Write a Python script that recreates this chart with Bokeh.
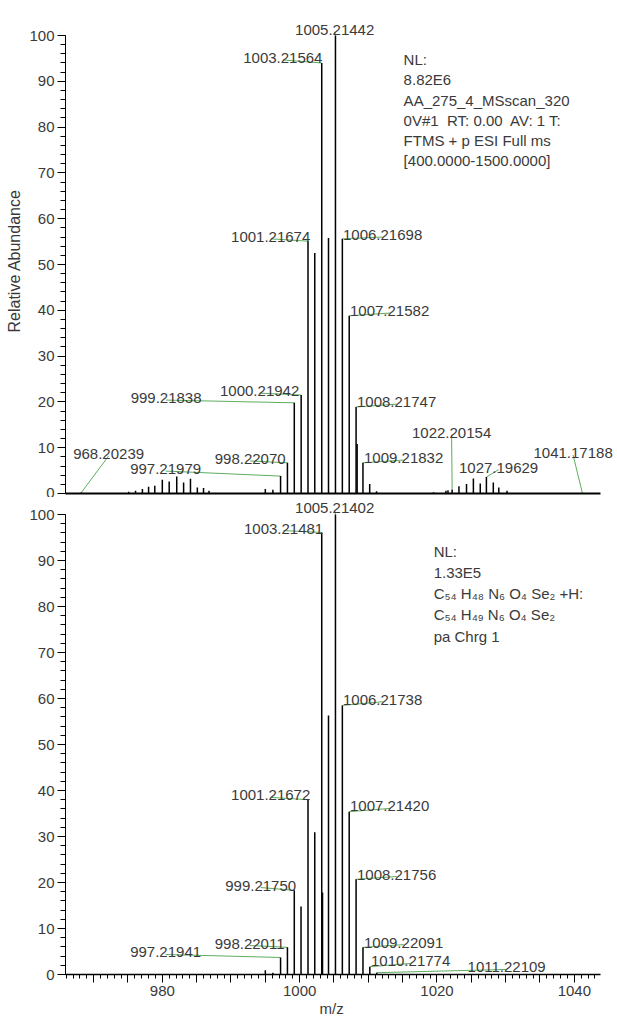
from bokeh.plotting import figure
from bokeh.models import ColumnDataSource, Range1d, FixedTicker
from bokeh.layouts import column
from bokeh.embed import file_html
from bokeh.resources import INLINE
from bokeh.core.properties import value

# ---------------- data ----------------
# upper spectrum: measured scan (m/z, relative abundance)
top_mz = [968.20239, 975.1, 976.1, 977.1, 978.0, 978.9, 980.0, 981.0, 982.1, 983.1,
          984.1, 985.1, 986.0, 986.8, 995.0, 996.1, 997.21979, 998.22070, 999.21838,
          1000.21942, 1001.21674, 1002.2, 1003.21564, 1004.2, 1005.21442, 1006.21698,
          1007.21582, 1008.21747, 1008.37, 1009.21832, 1010.2, 1011.2, 1019.5, 1021.3,
          1021.6, 1022.20154, 1023.2, 1024.3, 1025.3, 1026.3, 1027.19629, 1028.2,
          1029.0, 1030.2, 1041.17188]
top_ab = [0.2, 0.4, 0.6, 1.0, 1.5, 1.7, 3.0, 2.6, 3.7, 2.4,
          3.2, 1.3, 1.2, 0.6, 1.0, 0.8, 3.8, 6.7, 19.8,
          21.5, 55.1, 52.5, 94.0, 55.8, 100.0, 55.6,
          38.8, 18.9, 10.8, 6.7, 2.1, 0.5, 0.3, 0.6,
          0.7, 0.9, 1.6, 2.1, 3.3, 2.2, 3.6, 2.4,
          1.3, 0.6, 0.1]
top_labeled = [968.20239, 997.21979, 998.22070, 999.21838, 1000.21942, 1001.21674,
               1003.21564, 1005.21442, 1006.21698, 1007.21582, 1008.21747, 1009.21832,
               1022.20154, 1027.19629, 1041.17188]
NB = "\u00a0"
top_info = ["NL:", "8.82E6", "AA_275_4_MSscan_320",
            "0V#1" + NB + " RT: 0.00" + NB + " AV: 1 T:",
            "FTMS + p ESI Full ms", "[400.0000-1500.0000]"]

# lower spectrum: theoretical isotope pattern
bot_mz = [995.0, 996.1, 997.21941, 998.22011, 999.21750, 1000.2, 1001.21672, 1002.2,
          1003.21481, 1003.33, 1004.2, 1005.21402, 1006.21738, 1007.21420, 1008.21756,
          1009.22091, 1010.21774, 1011.22109]
bot_ab = [0.9, 0.4, 3.7, 5.9, 18.3, 14.8, 38.0, 30.9,
          96.1, 17.8, 56.3, 100.0, 58.5, 35.4, 20.7,
          5.9, 1.7, 0.4]
bot_labeled = [997.21941, 998.22011, 999.21750, 1001.21672, 1003.21481, 1005.21402,
               1006.21738, 1007.21420, 1008.21756, 1009.22091, 1010.21774, 1011.22109]
bot_info = ["NL:", "1.33E5", "C\u2085\u2084 H\u2084\u2088 N\u2086 O\u2084 Se\u2082 +H:",
            "C\u2085\u2084 H\u2084\u2089 N\u2086 O\u2084 Se\u2082", "pa Chrg 1"]

# label anchor placement (layout of the annotation boxes, in axis units)
top_lbl_x = [972.18, 980.48, 992.79, 980.55, 994.17, 995.78, 997.55, 1005.10,
             1012.08, 1013.10, 1014.12, 1015.14, 1022.13, 1028.97, 1039.82]
top_lbl_y = [8.2, 4.9, 7.1, 20.4, 21.9, 55.6, 94.65, 100.8,
             56.0, 39.4, 19.5, 7.3, 12.8, 5.2, 8.4]
bot_lbl_x = [980.48, 992.71, 994.32, 995.78, 997.66, 1005.10,
             1012.08, 1013.10, 1014.12, 1015.14, 1016.16, 1030.14]
bot_lbl_y = [4.35, 6.3, 18.9, 38.5, 96.5, 100.9,
             59.3, 36.1, 21.3, 6.5, 2.4, 1.1]

# ---------------- styling ----------------
TEXT = "#3a3a3a"
GREEN = "#5cad5c"
FONT = "Liberation Sans"
X_START, X_END = 965.9, 1045.85
X_BOUNDS = (965.9, 1043.8)


def base_fig(height, y_end, border_top, border_bottom):
    p = figure(width=617, height=height, x_range=Range1d(X_START, X_END),
               y_range=Range1d(0, y_end), output_backend="svg", toolbar_location=None,
               min_border_left=65, min_border_right=3, min_border_top=border_top,
               min_border_bottom=border_bottom)
    p.grid.visible = False
    p.outline_line_color = None
    p.background_fill_color = "white"
    ya = p.yaxis[0]
    ya.ticker = FixedTicker(ticks=list(range(0, 101, 10)), minor_ticks=list(range(0, 101, 2)))
    ya.bounds = (0, 100)
    ya.major_tick_out = 8
    ya.major_tick_in = 0
    ya.minor_tick_out = 5
    ya.minor_tick_in = 0
    ya.major_label_standoff = 3
    ya.major_label_text_font = FONT
    ya.major_label_text_font_size = "15px"
    ya.major_label_text_color = TEXT
    ya.axis_line_color = "black"
    ya.major_tick_line_color = "black"
    ya.minor_tick_line_color = "black"
    return p


def draw_spectrum(p, mz, ab, labeled, lx, ly):
    lookup = dict(zip(mz, ab))
    peaks = ColumnDataSource(dict(mz=mz, ab=ab))
    lab = ColumnDataSource(dict(pmz=labeled, pab=[lookup[m] for m in labeled],
                                lx=lx, ly=ly, txt=[f"{m:.5f}" for m in labeled]))
    p.segment(x0="pmz", y0="pab", x1="lx", y1="ly", source=lab,
              line_color=GREEN, line_width=1)
    p.segment(x0="mz", y0=0, x1="mz", y1="ab", source=peaks,
              line_color="black", line_width=1.5)
    p.text(x="lx", y="ly", text="txt", source=lab, text_align="center",
           text_baseline="alphabetic", y_offset=-2, text_font=value(FONT),
           text_font_size="15px", text_color=TEXT)


# ---------------- upper panel ----------------
top = base_fig(497, 483 / 4.58, 10, 4)
ya = top.yaxis[0]
ya.axis_label = "Relative Abundance" + NB * 4
ya.axis_label_text_font = FONT
ya.axis_label_text_font_size = "16px"
ya.axis_label_text_font_style = "normal"
ya.axis_label_text_color = TEXT
ya.axis_label_standoff = 3
xa = top.xaxis[0]
xa.ticker = FixedTicker(ticks=[])
xa.bounds = X_BOUNDS
xa.major_label_text_font_size = "0px"
xa.major_tick_out = 0
xa.major_tick_in = 0
xa.minor_tick_out = 0
xa.minor_tick_in = 0
xa.major_label_standoff = 0
xa.axis_line_width = 2
xa.axis_line_color = "black"
draw_spectrum(top, top_mz, top_ab, top_labeled, top_lbl_x, top_lbl_y)
top.text(x=[1015.14], y=[96.6], text=["\n".join(top_info)], text_align="left",
         text_baseline="top", text_font=value(FONT), text_font_size="15px",
         text_color=TEXT, text_line_height=1.19)

# ---------------- lower panel ----------------
bot = base_fig(524, 477 / 4.6, 0, 47)
xb = bot.xaxis[0]
major = list(range(970, 1041, 5))
xb.ticker = FixedTicker(ticks=major, minor_ticks=list(range(966, 1044)))
xb.major_label_overrides = {t: "" for t in major if t % 20 != 0}
xb.bounds = X_BOUNDS
xb.major_tick_out = 8
xb.major_tick_in = 0
xb.minor_tick_out = 4
xb.minor_tick_in = 0
xb.major_label_standoff = 3
xb.major_label_text_font = FONT
xb.major_label_text_font_size = "15px"
xb.major_label_text_color = TEXT
xb.axis_line_color = "black"
xb.axis_line_width = 1.5
xb.major_tick_line_color = "black"
xb.minor_tick_line_color = "black"
xb.axis_label = "m/z" + NB * 4
xb.axis_label_text_font = FONT
xb.axis_label_text_font_size = "15px"
xb.axis_label_text_font_style = "normal"
xb.axis_label_text_color = TEXT
xb.axis_label_standoff = 1
draw_spectrum(bot, bot_mz, bot_ab, bot_labeled, bot_lbl_x, bot_lbl_y)
bot.text(x=[1019.51], y=[93.9], text=["\n".join(bot_info)], text_align="left",
         text_baseline="top", text_font=value(FONT), text_font_size="15px",
         text_color=TEXT, text_line_height=1.25)

layout = column(top, bot)
open("out.html", "w").write(file_html(layout, INLINE))
